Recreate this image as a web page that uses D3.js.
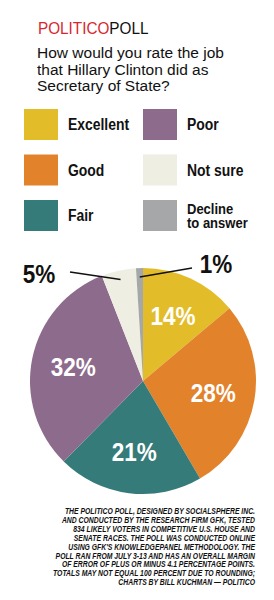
<!DOCTYPE html>
<html>
<head>
<meta charset="utf-8">
<script src="https://cdn.jsdelivr.net/npm/d3@7"></script>
<style>
  body { margin: 0; background: #fff; }
  svg { display: block; }
  .cond { font-family: "Liberation Sans", Arial, sans-serif; font-weight: bold; }
</style>
</head>
<body>
<script>
/* DATA */
var categories = ["Excellent", "Good", "Fair", "Poor", "Not sure", "Decline to answer"];
var values = [14, 28, 21, 32, 5, 1];
var labels = ["14%", "28%", "21%", "32%", "5%", "1%"];
var colors = ["#e3bd29", "#e2832c", "#357b79", "#8d6b8c", "#eeeee3", "#a6a7a9"];
var notes = [
  "THE POLITICO POLL, DESIGNED BY SOCIALSPHERE INC.",
  "AND CONDUCTED BY THE RESEARCH FIRM GFK, TESTED",
  "834 LIKELY VOTERS IN COMPETITIVE U.S. HOUSE AND",
  "SENATE RACES. THE POLL WAS CONDUCTED ONLINE",
  "USING GFK'S KNOWLEDGEPANEL METHODOLOGY. THE",
  "POLL RAN FROM JULY 3-13 AND HAS AN OVERALL MARGIN",
  "OF ERROR OF PLUS OR MINUS 4.1 PERCENTAGE POINTS.",
  "TOTALS MAY NOT EQUAL 100 PERCENT DUE TO ROUNDING;",
  "CHARTS BY BILL KUCHMAN \u2014 POLITICO"
];

var width = 274, height = 600;
var cx = 143, cy = 381, radius = 113;

var svg = d3.select("body").append("svg")
    .attr("width", width)
    .attr("height", height);

// header (narrowed)
var head = svg.append("text")
    .attr("transform", "translate(38,34) scale(0.9,1)")
    .style("font-family", "Liberation Sans, Arial, sans-serif")
    .style("font-size", "17px");
head.append("tspan").attr("fill", "#d7282f").text("POLITICO");
head.append("tspan").attr("fill", "#111").text("POLL");

var question = ["How would you rate the job", "that Hillary Clinton did as", "Secretary of State?"];
svg.append("g").selectAll("text")
    .data(question)
  .enter().append("text")
    .attr("x", 37)
    .attr("y", function(d, i) { return 58 + i * 16.5; })
    .style("font-family", "Liberation Sans, Arial, sans-serif")
    .style("font-size", "15.5px")
    .attr("fill", "#111")
    .text(function(d) { return d; });

// legend
var legend = svg.append("g").selectAll("g")
    .data(categories)
  .enter().append("g")
    .attr("transform", function(d, i) {
      return "translate(" + (i < 3 ? 24 : 143) + "," + (109 + (i % 3) * 45.5) + ")";
    });

legend.append("rect")
    .attr("width", 34).attr("height", 31)
    .attr("fill", function(d, i) { return colors[i]; });

legend.each(function(d) {
  var two = d === "Decline to answer";
  var parts = two ? ["Decline", "to answer"] : [d];
  var t = d3.select(this).append("text")
      .attr("class", "cond")
      .attr("transform", "translate(44," + (two ? 13.5 : 21) + ") scale(" + (two ? 0.93 : 0.87) + ",1)")
      .style("font-size", two ? "14px" : "16px")
      .attr("fill", "#111");
  t.selectAll("tspan")
      .data(parts)
    .enter().append("tspan")
      .attr("x", 0)
      .attr("y", function(p, j) { return j * 14.5; })
      .text(function(p) { return p; });
});

// pie
var pie = d3.pie().sort(null).value(function(d) { return d; });
var arc = d3.arc().innerRadius(0).outerRadius(radius);
var arcs = pie(values);

var pg = svg.append("g")
    .attr("transform", "translate(" + cx + "," + cy + ")");

pg.selectAll("path")
    .data(arcs)
  .enter().append("path")
    .attr("d", arc)
    .attr("fill", function(d, i) { return colors[i]; });

// inside labels
var labelArc = d3.arc().innerRadius(radius * 0.63).outerRadius(radius * 0.63);
pg.selectAll("text.in")
    .data(arcs.slice(0, 4))
  .enter().append("text")
    .attr("class", "cond in")
    .attr("transform", function(d) { return "translate(" + labelArc.centroid(d) + ") scale(0.9,1)"; })
    .attr("dy", "0.36em")
    .style("text-anchor", "middle")
    .style("font-size", "25px")
    .attr("fill", "#fff")
    .text(function(d, i) { return labels[i]; });

// outside labels with leader lines
var outside = [
  {i: 4, lx: -73, ly: -109, tx: -104, ty: -98},
  {i: 5, lx: 49, ly: -113, tx: 73, ty: -108}
];
var edgeArc = d3.arc().innerRadius(radius * 0.92).outerRadius(radius * 0.92);
outside.forEach(function(o) {
  var c = edgeArc.centroid(arcs[o.i]);
  pg.append("line")
      .attr("x1", c[0]).attr("y1", c[1])
      .attr("x2", o.lx).attr("y2", o.ly)
      .attr("stroke", "#111")
      .attr("stroke-width", 1.5);
  pg.append("text")
      .attr("class", "cond")
      .attr("transform", "translate(" + o.tx + "," + o.ty + ") scale(0.9,1)")
      .style("text-anchor", "middle")
      .style("font-size", "25px")
      .attr("fill", "#111")
      .text(labels[o.i]);
});

// footnote
svg.append("g").selectAll("text")
    .data(notes)
  .enter().append("text")
    .attr("transform", function(d, i) { return "translate(255," + (514 + i * 8.9) + ") scale(0.76,1)"; })
    .style("text-anchor", "end")
    .style("font-family", "Liberation Sans, Arial, sans-serif")
    .style("font-style", "italic")
    .style("font-weight", "bold")
    .style("font-size", "9px")
    .attr("fill", "#111")
    .text(function(d) { return d; });
</script>
</body>
</html>
